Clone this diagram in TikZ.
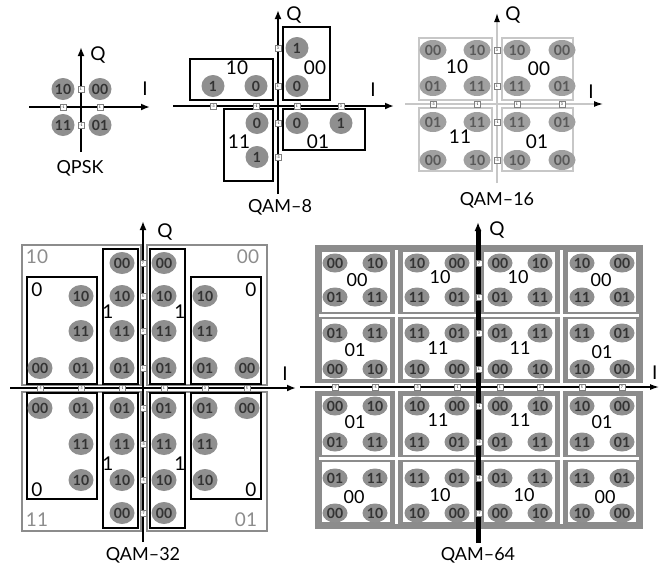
\documentclass[tikz,border=0pt]{standalone}
\usepackage{fontspec}
\setmainfont{Lato}
\usetikzlibrary{shapes.geometric,arrows.meta}
\definecolor{dotgray}{gray}{0.56}
\definecolor{txtgray}{gray}{0.2}
\definecolor{framegray}{gray}{0.55}
\definecolor{lightframe}{gray}{0.78}

\begin{document}
\begin{tikzpicture}[x=1pt,y=-1pt,
    dot/.style={ellipse, fill=dotgray, inner sep=0pt, minimum width=23pt, minimum height=22pt,
        text=txtgray, font=\fontsize{14}{14}\selectfont\bfseries},
    dotwide/.style={dot, minimum width=27pt, minimum height=20pt, fill=dotgray!85!white,
        text=gray!70!black},
    tk/.style={fill=white, draw=gray, line width=0.3pt, inner sep=0.6pt, minimum size=6pt,
        font=\fontsize{3.5}{3.5}\selectfont},
    axis/.style={line width=2.2pt, -{Latex[length=9pt,width=7pt]}},
    lbl/.style={font=\fontsize{19}{19}\selectfont, text=black},
    ttl/.style={font=\fontsize{18}{18}\selectfont},
    box/.style={draw=black, line width=1.8pt}]
\useasboundingbox (0,0) rectangle (661,565);

% QPSK
\coordinate (p-l) at (29,107); \coordinate (p-r) at (150,107);
\coordinate (p-b) at (81,152); \coordinate (p-t) at (81,47);
\draw[axis] (p-l) -- (p-r);
\draw[axis] (p-b) -- (p-t);
\foreach \x/\y/\l in {63/89/10, 100/89/00, 63/125/11, 100/125/01}
    \node[dot] (p-\l) at (\x,\y) {\l};
\foreach \x/\y/\l [count=\i] in {81/89/1, 81/125/-1, 63/107/-1, 100/107/1}
    \node[tk] (p-tk\i) at (\x,\y) {\l};
\node[lbl] (p-q) at (98,55) {Q};
\node[lbl] (p-i) at (145,89) {I};
\node[ttl] (p-name) at (80,168) {QPSK};

% QAM-8
\draw[box] (190,59) rectangle (273,100);
\draw[box] (283,27) rectangle (330,100);
\draw[box] (224,109) rectangle (273,181);
\draw[box] (283,109) rectangle (365,150);
\coordinate (e-l) at (173,106); \coordinate (e-r) at (394,106);
\coordinate (e-b) at (278,194); \coordinate (e-t) at (278,10);
\draw[axis] (e-l) -- (e-r);
\draw[axis] (e-b) -- (e-t);
\foreach \x/\y/\l [count=\i] in {213/86/1, 256/86/0, 297/48/1, 297/86/0,
        257/123/0, 257/157/1, 297/123/0, 341/123/1}
    \node[dot] (e-\i) at (\x,\y) {\l};
\foreach \x/\y/\l [count=\i] in {278/48/3, 278/86/1, 278/123/-1, 278/157/-3,
        213/106/-3, 256/106/-1, 297/106/1, 341/106/3}
    \node[tk] (e-tk\i) at (\x,\y) {\l};
\node[lbl] (e-10) at (237,68) {10};
\node[lbl] (e-00) at (315,68) {00};
\node[lbl] (e-11) at (239,142) {11};
\node[lbl] (e-01) at (318,142) {01};
\node[lbl] (e-q) at (294,15) {Q};
\node[lbl] (e-i) at (373,90) {I};
\node[ttl] (e-name) at (280,207) {QAM–8};

% QAM-16
\foreach \a/\b/\c/\d in {419/38/492/100, 502/38/573/100, 419/108/492/171, 502/108/573/171}
    \draw[lightframe, line width=1.5pt] (\a,\b) rectangle (\c,\d);
\coordinate (s-l) at (405,104); \coordinate (s-r) at (603,104);
\coordinate (s-b) at (497,183); \coordinate (s-t) at (497,13);
\draw[lightframe, line width=1.3pt, -{Latex[length=9pt,width=6pt,black]}] (s-l) -- (s-r);
\draw[lightframe, line width=1.3pt, -{Latex[length=9pt,width=6pt,black]}] (s-b) -- (s-t);
\foreach \y/\la/\lb/\lc/\ld [count=\r] in {50/00/10/10/00, 86/01/11/11/01,
        122/01/11/11/01, 160/00/10/10/00}{
    \node[dotwide] (s-\r-1) at (433,\y) {\la};
    \node[dotwide] (s-\r-2) at (477,\y) {\lb};
    \node[dotwide] (s-\r-3) at (517,\y) {\lc};
    \node[dotwide] (s-\r-4) at (562,\y) {\ld};
}
\foreach \x/\y/\l [count=\i] in {497/50/3, 497/86/1, 497/122/-1, 497/160/-3,
        433/104/-3, 477/104/-1, 517/104/1, 562/104/3}
    \node[tk] (s-tk\i) at (\x,\y) {\l};
\node[lbl] (s-10) at (457,67) {10};
\node[lbl] (s-00) at (539,69) {00};
\node[lbl] (s-11) at (460,137) {11};
\node[lbl] (s-01) at (537,142) {01};
\node[lbl] (s-q) at (513,15) {Q};
\node[lbl] (s-i) at (591,92) {I};
\node[ttl] (s-name) at (497,200) {QAM–16};

% QAM-32
\foreach \a/\b/\c/\d in {22/245/141/385, 147/245/267/385, 22/392/141/531, 147/392/267/531}
    \draw[framegray, line width=2pt] (\a,\b) rectangle (\c,\d);
\foreach \a/\b/\c/\d in {27/277/97/384, 103/249/138/384, 150/249/185/384, 191/277/261/384,
        27/393/97/499, 103/393/138/528, 150/393/185/528, 191/393/261/499}
    \draw[box] (\a,\b) rectangle (\c,\d);
\coordinate (t-l) at (10,388); \coordinate (t-r) at (296,388);
\coordinate (t-b) at (143,542); \coordinate (t-t) at (143,221);
\draw[axis, line width=2pt] (t-l) -- (t-r);
\draw[axis, line width=2pt] (t-b) -- (t-t);
\foreach \x/\y/\l [count=\i] in {
        122/263/00, 164/263/00,
        81/296/10, 122/296/10, 164/296/10, 205/296/10,
        81/331/11, 122/331/11, 164/331/11, 205/331/11,
        40/368/00, 81/368/01, 122/368/01, 164/368/01, 205/368/01, 247/368/00,
        40/408/00, 81/408/01, 122/408/01, 164/408/01, 205/408/01, 247/408/00,
        81/444/11, 122/444/11, 164/444/11, 205/444/11,
        81/480/10, 122/480/10, 164/480/10, 205/480/10,
        122/513/00, 164/513/00}
    \node[dot, minimum width=25pt, minimum height=22pt] (t-\i) at (\x,\y) {\l};
\foreach \y/\l [count=\i] in {263/7, 296/5, 331/3, 368/1, 408/-1, 444/-3, 480/-5, 513/-7}
    \node[tk] (t-tq\i) at (143,\y) {\l};
\foreach \x/\l [count=\i] in {40/-5, 81/-3, 122/-1, 164/1, 205/3, 247/5}
    \node[tk] (t-ti\i) at (\x,388) {\l};
\node[lbl, text=framegray] (t-10) at (37,257) {10};
\node[lbl, text=framegray] (t-00) at (248,257) {00};
\node[lbl, text=framegray] (t-11) at (37,520) {11};
\node[lbl, text=framegray] (t-01) at (246,520) {01};
\foreach \x/\y/\l [count=\i] in {37/290/0, 251/290/0, 37/490/0, 251/490/0,
        108/312/1, 180/312/1, 108/464/1, 180/464/1}
    \node[lbl] (t-b\i) at (\x,\y) {\l};
\node[lbl] (t-q) at (165,232) {Q};
\node[lbl] (t-i) at (285,374) {I};
\node[ttl] (t-name) at (143,555) {QAM–32};

% QAM-64
\fill[framegray] (315,245) rectangle (643,529);
\foreach \a/\c in {322/390, 403/474, 484/555, 568/636}
    \foreach \b/\d in {252/312, 319/379, 396/455, 462/522}
        \fill[white] (\a,\b) rectangle (\c,\d);
\foreach \x in {396.5, 561.5}
    \draw[white, line width=3pt] (\x,250) -- (\x,524);
\foreach \y in {315.5, 458.5}
    \draw[white, line width=2.5pt] (319,\y) -- (639,\y);
\fill[white] (315,383) rectangle (643,391);
\coordinate (h-l) at (300,387); \coordinate (h-r) at (659,387);
\coordinate (h-b) at (478,543); \coordinate (h-t) at (478,222);
\draw[line width=1.2pt, -{Latex[length=9pt,width=6pt]}] (h-l) -- (h-r);
\draw[axis, line width=5pt] (h-b) -- (h-t);
\foreach \y/\rt [count=\r] in {263/a, 297/b, 333/b, 369/a, 406/a, 442/b, 478/b, 513/a}
    \foreach \x/\la/\lb [count=\c] in {335/00/01, 375/10/11, 417/10/11, 457/00/01,
            500/00/01, 540/10/11, 582/10/11, 622/00/01}
        \node[dot, minimum width=25pt, minimum height=19pt] (h-\r-\c) at (\x,\y)
            {\if\rt a\la\else\lb\fi};
\foreach \y/\l [count=\i] in {263/7, 297/5, 333/3, 369/1, 406/-1, 442/-3, 478/-5, 513/-7}
    \node[tk] (h-tq\i) at (479,\y) {\l};
\foreach \x/\l [count=\i] in {335/-7, 375/-5, 417/-3, 457/-1, 500/1, 540/3, 582/5, 622/7}
    \node[tk] (h-ti\i) at (\x,387) {\l};
\foreach \x/\y/\l [count=\i] in {357/280/00, 440/277/10, 518/277/10, 601/280/00,
        355/350/01, 438/348/11, 520/348/11, 602/352/01,
        355/422/01, 438/420/11, 520/420/11, 602/422/01,
        354/497/00, 440/495/10, 524/495/10, 605/497/00}
    \node[font=\fontsize{18}{18}\selectfont] (h-c\i) at (\x,\y) {\l};
\node[lbl] (h-q) at (497,230) {Q};
\node[lbl, anchor=east] (h-i) at (661,373) {I};
\node[ttl] (h-name) at (478,555) {QAM–64};
\end{tikzpicture}
\end{document}
